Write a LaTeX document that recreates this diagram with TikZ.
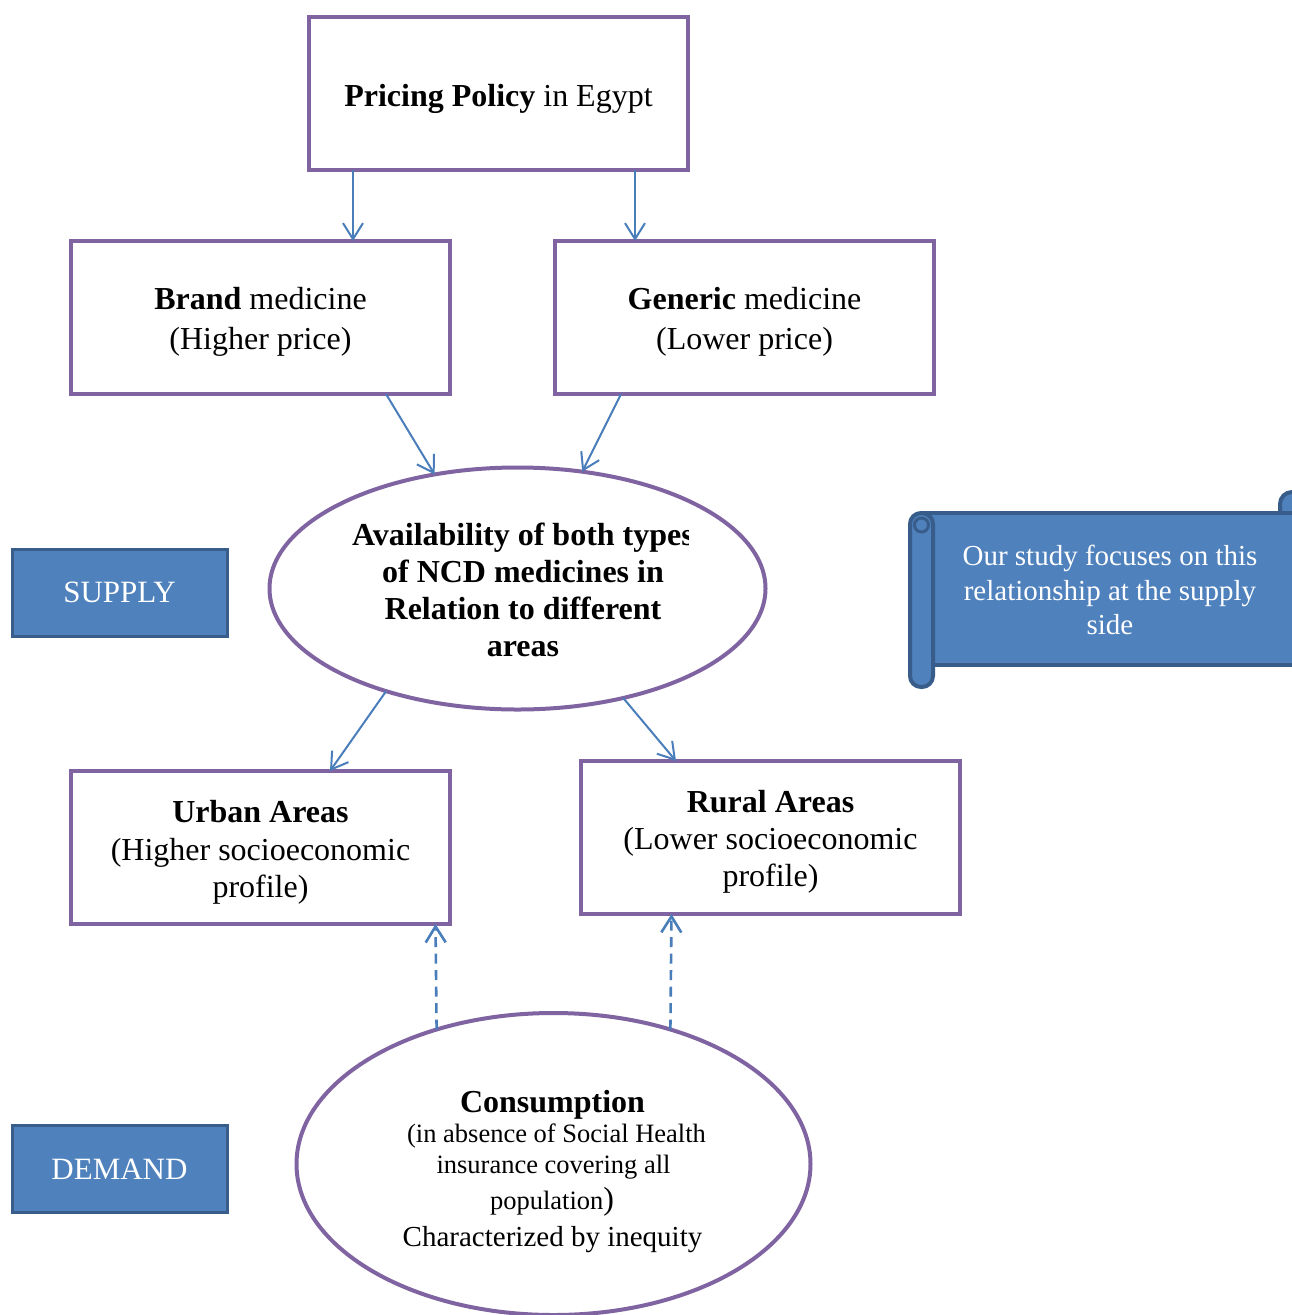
\documentclass[tikz,border=0pt]{standalone}
\usepackage{fontspec}
\setmainfont{Liberation Serif}
\usetikzlibrary{arrows.meta,shapes.geometric,calc}
\definecolor{boxpurple}{HTML}{8064A2}
\definecolor{arrowblue}{HTML}{4A7EBB}
\definecolor{fillblue}{HTML}{4F81BD}
\definecolor{edgeblue}{HTML}{385D8A}
\begin{document}
\begin{tikzpicture}[x=1pt,y=-1pt,
  pbox/.style={draw=boxpurple,line width=4pt,minimum width=379pt,minimum height=153pt,outer sep=0pt,inner sep=0pt},
  boxtext/.style={align=center,inner sep=0pt,font=\fontsize{32}{40}\selectfont},
  pell/.style={ellipse,draw=boxpurple,line width=4pt,outer sep=0pt,inner sep=0pt},
  bluebox/.style={draw=edgeblue,fill=fillblue,line width=3pt,minimum width=215pt,minimum height=87pt,text=white,font=\fontsize{31}{37}\selectfont,outer sep=0pt},
  scrollpart/.style={fill=fillblue,draw=edgeblue,line width=4pt},
  arr/.style={draw=arrowblue,line width=2pt,-{Straight Barb[length=16pt,width=20pt]}},
  darr/.style={arr,line width=2.6pt,dash pattern=on 10pt off 6.5pt}]
\useasboundingbox (0,0) rectangle (1292,1315);
\clip (0,0) rectangle (1292,1315);
\fill[white] (0,0) rectangle (1292,1315);

% boxes
\node[pbox] (top) at (498.5,93.5) {};
\node[boxtext] (toptext) at ($(top)+(0,5)$) {\textbf{Pricing Policy} in Egypt};
\node[pbox] (brand) at (260.5,317.5) {};
\node[boxtext] (brandtext) at ($(brand)+(0,4)$) {\textbf{Brand} medicine\\(Higher price)};
\node[pbox] (generic) at (744.5,317.5) {};
\node[boxtext] (generictext) at ($(generic)+(0,4)$) {\textbf{Generic} medicine\\(Lower price)};
\node[pbox] (urban) at (260.5,847.5) {};
\node[boxtext,font=\fontsize{32}{37.5}\selectfont] (urbantext) at ($(urban)+(0,5)$) {\textbf{Urban Areas}\\(Higher socioeconomic\\profile)};
\node[pbox] (rural) at (770.5,837.5) {};
\node[boxtext,font=\fontsize{32}{37}\selectfont] (ruraltext) at ($(rural)+(0,4.5)$) {\textbf{Rural Areas}\\(Lower socioeconomic\\profile)};

% availability ellipse
\node[pell,minimum width=496pt,minimum height=242pt] (avail) at (517.5,588.5) {};
\begin{scope}
\clip (260,450) rectangle (688,720);
\node[align=center,font=\bfseries\fontsize{32}{37}\selectfont] (availtext) at (523,590) {Availability of both types\\of NCD medicines in\\Relation to different\\areas};
\end{scope}

% consumption ellipse
\node[pell,minimum width=514pt,minimum height=302pt] (cons) at (553.5,1164) {};
\node[anchor=base,font=\bfseries\fontsize{32}{37}\selectfont] (constitle) at (552.5,1112) {Consumption};
\node[anchor=base,font=\fontsize{26.5}{30}\selectfont] (consa) at (556.5,1142) {(in absence of Social Health};
\node[anchor=base,font=\fontsize{26.5}{30}\selectfont] (consb) at (553.5,1173) {insurance covering all};
\node[anchor=base,font=\fontsize{26.5}{30}\selectfont] (consc) at (552,1209) {population{\fontsize{32}{37}\selectfont)}};
\node[anchor=base,font=\fontsize{29}{34}\selectfont] (consd) at (552.5,1246) {Characterized by inequity};

% side boxes
\node[bluebox] (supply) at (119.5,592.5) {SUPPLY};
\node[bluebox] (demand) at (119.5,1169) {DEMAND};

% scroll
\filldraw[scrollpart,rounded corners=12pt] (1280,492) rectangle (1330,640);
\filldraw[scrollpart] (925,513) rectangle (1330,665);
\filldraw[scrollpart,rounded corners=11pt] (910,513) rectangle (933,687);
\filldraw[scrollpart,line width=3pt] (921.5,525) circle (7pt);
\node[align=center,text=white,font=\fontsize{29}{34.5}\selectfont] (scrolltext) at (1110,590) {Our study focuses on this\\relationship at the supply\\side};

% connectors
\draw[arr] ([xshift=44pt]top.south west) -- ([xshift=282pt]brand.north west);
\draw[arr] ([xshift=326pt]top.south west) -- ([xshift=80pt]generic.north west);
\draw[arr] ([xshift=315pt]brand.south west) -- (avail.126);
\draw[arr] ([xshift=66pt]generic.south west) -- (avail.61);
\draw[arr] (avail.218) -- ([xshift=259pt]urban.north west);
\draw[arr] (avail.314) -- ([xshift=95pt]rural.north west);
\draw[darr] (cons.131.5) -- ([xshift=364.5pt]urban.south west);
\draw[darr] (cons.49.6) -- ([xshift=90.5pt]rural.south west);
\end{tikzpicture}
\end{document}
